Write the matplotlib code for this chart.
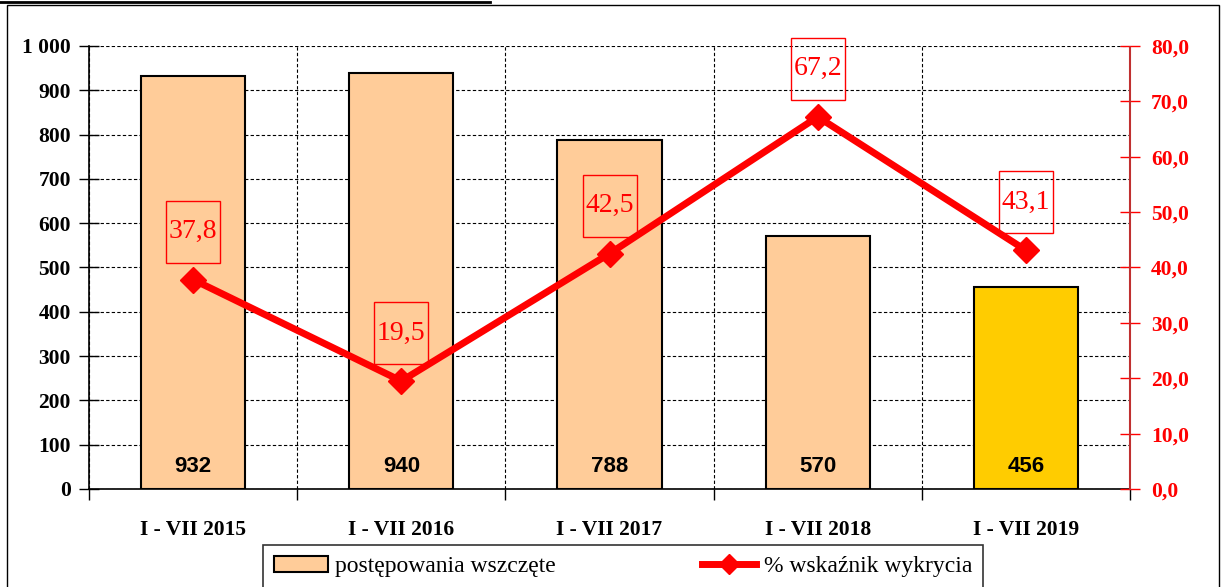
import matplotlib.pyplot as plt
import numpy as np
from matplotlib.patches import Rectangle
from matplotlib.lines import Line2D
from matplotlib.transforms import ScaledTranslation

# dane
categories = ['I - VII 2015', 'I - VII 2016', 'I - VII 2017', 'I - VII 2018', 'I - VII 2019']
cases = [932, 940, 788, 570, 456]
detection = [37.8, 19.5, 42.5, 67.2, 43.1]
bar_colors = ['#FFCC99', '#FFCC99', '#FFCC99', '#FFCC99', '#FFCC00']
left_ticks = list(range(0, 1001, 100))
right_ticks = list(range(0, 81, 10))

serif = 'Liberation Serif'
sans = 'Liberation Sans'

fig = plt.figure(figsize=(12.21, 5.87), dpi=100)
ax = fig.add_axes([0.0729, 0.1670, 0.8526, 0.7547])
ax2 = ax.twinx()

x = np.arange(len(categories))

# slupki
ax.bar(x, cases, width=0.5, color=bar_colors, edgecolor='black', linewidth=1.5, zorder=2)
for xi, v in zip(x, cases):
    ax.text(xi, 28, str(v), ha='center', va='bottom', fontsize=16, fontweight='bold',
            family=sans, zorder=3)

ax.set_xlim(-0.5, len(categories) - 0.5)
ax.set_ylim(0, 1000)
ax.set_yticks(left_ticks)
ax.set_yticklabels(['1 000' if t == 1000 else str(t) for t in left_ticks],
                   fontsize=15.5, fontweight='bold', family=serif)
ax.tick_params(axis='y', direction='inout', length=14, width=1, pad=6)

# etykiety osi x na srodkach, znaczniki na granicach
ax.set_xticks(x)
ax.set_xticklabels(categories, fontsize=15.5, fontweight='bold', family=serif)
ax.tick_params(axis='x', length=0, pad=22)
ax.set_xticks(np.arange(len(categories) + 1) - 0.5, minor=True)
ax.tick_params(axis='x', which='minor', direction='out', length=8, width=1)

ax.grid(axis='y', linestyle=(0, (3, 2)), color='black', linewidth=0.8, zorder=0)
ax.grid(axis='x', which='minor', linestyle=(0, (3, 2)), color='black', linewidth=0.8, zorder=0)
ax.set_axisbelow(True)
for s in ['top', 'right']:
    ax.spines[s].set_visible(False)
ax.spines['left'].set_linewidth(1.2)
ax.spines['bottom'].set_linewidth(1.2)

# linia wskaznika
ax2.plot(x, detection, color='red', linewidth=5, marker='D', markersize=13, zorder=5)
ax2.set_ylim(0, 80)
ax2.set_yticks(right_ticks)
ax2.set_yticklabels([f'{t:.1f}'.replace('.', ',') for t in right_ticks],
                    fontsize=15.5, fontweight='bold', family=serif, color='red')
ax2.tick_params(axis='y', direction='inout', length=14, width=1, color='red', pad=8)
for s in ['top', 'left', 'bottom']:
    ax2.spines[s].set_visible(False)
ax2.spines['right'].set_color('#c03030')
ax2.spines['right'].set_linestyle((0, (2, 1)))
ax2.spines['right'].set_linewidth(1.5)

# ramki z wartosciami
for xi, v in zip(x, detection):
    tr = fig.dpi_scale_trans + ScaledTranslation(xi, v, ax2.transData)
    ax2.add_patch(Rectangle((-0.27, 0.17), 0.54, 0.62, transform=tr, fill=False,
                            edgecolor='red', linewidth=1, clip_on=False, zorder=6))
    ax2.annotate(f'{v:.1f}'.replace('.', ','), xy=(xi, v), xytext=(0, 0.48 * 72),
                 textcoords='offset points', ha='center', va='center', color='red',
                 fontsize=20, family=serif, zorder=7)

# legenda
handles = [Rectangle((0, 0), 1, 1, facecolor='#FFCC99', edgecolor='black', linewidth=1.5),
           Line2D([], [], color='red', linewidth=5, marker='D', markersize=10)]
leg = fig.legend(handles, ['postępowania wszczęte', '% wskaźnik wykrycia'],
                 loc='upper left', bbox_to_anchor=(263 / 1221, 1 - 545 / 587), ncol=2,
                 prop={'family': serif, 'size': 17}, frameon=True, fancybox=False,
                 edgecolor='black', handlelength=2.3, columnspacing=6.2,
                 borderpad=0.45, handletextpad=0.3, borderaxespad=0)
leg.get_frame().set_linewidth(1.2)

# ramka wykresu i podkreslenie tytulu
fig.add_artist(Rectangle((7 / 1221, -0.1), 1212 / 1221, 1.1 - 5 / 587, transform=fig.transFigure,
                         fill=False, edgecolor='black', linewidth=1))
fig.add_artist(Line2D([0, 490 / 1221], [1 - 1.5 / 587, 1 - 1.5 / 587], transform=fig.transFigure,
                      color='black', linewidth=2))

fig.savefig('out.png', dpi=100)
